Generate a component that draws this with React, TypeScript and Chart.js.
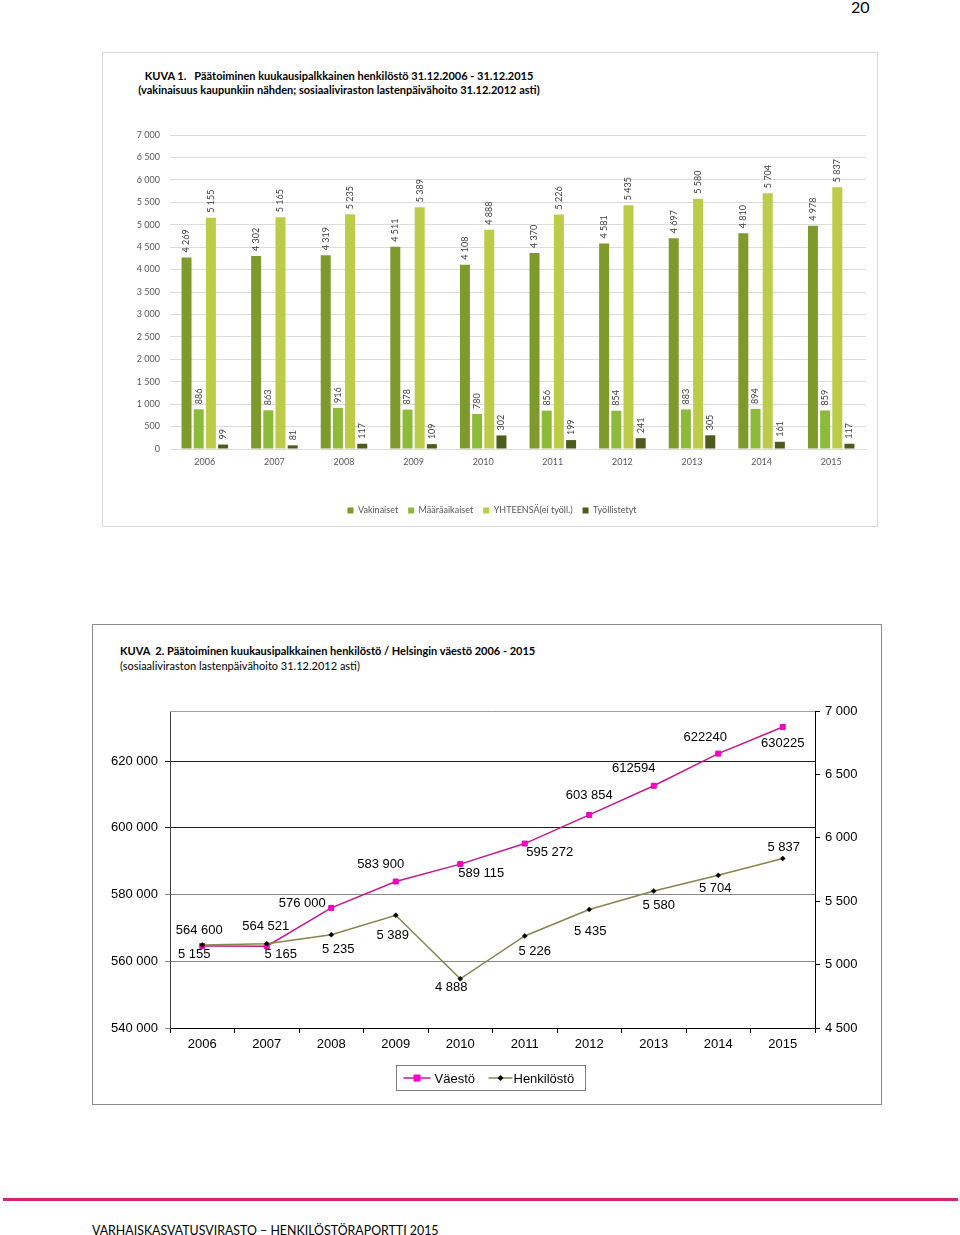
import React, { useEffect, useRef } from "react";
import { Chart, registerables } from "chart.js";

Chart.register(...registerables);

// ---------- DATA ----------
const years = ["2006", "2007", "2008", "2009", "2010", "2011", "2012", "2013", "2014", "2015"];
const vakinaiset = [4269, 4302, 4319, 4511, 4108, 4370, 4581, 4697, 4810, 4978];
const maaraaikaiset = [886, 863, 916, 878, 780, 856, 854, 883, 894, 859];
const yhteensa = [5155, 5165, 5235, 5389, 4888, 5226, 5435, 5580, 5704, 5837];
const tyollistetyt = [99, 81, 117, 109, 302, 199, 241, 305, 161, 117];

const vaesto = [564600, 564521, 576000, 583900, 589115, 595272, 603854, 612594, 622240, 630225];
const vaestoLabels = ["564 600", "564 521", "576 000", "583 900", "589 115", "595 272", "603 854", "612594", "622240", "630225"];
const henkilosto = [5155, 5165, 5235, 5389, 4888, 5226, 5435, 5580, 5704, 5837];

const leftTicks = [540000, 560000, 580000, 600000, 620000];
const rightTicks = [4500, 5000, 5500, 6000, 6500, 7000];

// label placement (style): offset of label centre from point
const vaestoOffsets = [[-3, -15], [-1, -20], [-29, -4], [-15, -17], [21, 9], [25, 9], [0, -20], [-20, -17], [-13, -16], [0, 16]];
const henkOffsets = [[-8, 9], [14, 11], [7, 15], [-3, 20], [-9, 9], [10, 15], [1, 22], [5, 14], [-3, 13], [1, -11]];

const fmt = (v: number) => String(v).replace(/\B(?=(\d{3})+(?!\d))/g, " ");

const C1FONT = "Lato";
const C2FONT = "'Liberation Sans', Arial, sans-serif";

const barLabelPlugin = {
  id: "barLabels",
  afterDatasetsDraw(chart: any) {
    const ctx = chart.ctx;
    ctx.save();
    ctx.font = `9px ${C1FONT}`;
    ctx.fillStyle = "#404040";
    chart.data.datasets.forEach((ds: any, i: number) => {
      const meta = chart.getDatasetMeta(i);
      meta.data.forEach((el: any, j: number) => {
        ctx.save();
        ctx.translate(el.x, el.y - 5);
        ctx.rotate(-Math.PI / 2);
        ctx.textAlign = "left";
        ctx.textBaseline = "middle";
        ctx.fillText(fmt(ds.data[j]), 0, 0);
        ctx.restore();
      });
    });
    ctx.restore();
  },
};

const lineExtrasPlugin = {
  id: "lineExtras",
  beforeDatasetsDraw(chart: any) {
    const { ctx, chartArea } = chart;
    ctx.save();
    ctx.strokeStyle = "#a0a0a0";
    ctx.lineWidth = 1;
    ctx.beginPath();
    ctx.moveTo(chartArea.left, chartArea.top + 0.5);
    ctx.lineTo(chartArea.right, chartArea.top + 0.5);
    ctx.stroke();
    ctx.restore();
  },
  afterDatasetsDraw(chart: any) {
    const { ctx, chartArea } = chart;
    ctx.save();
    ctx.font = `13px ${C2FONT}`;
    ctx.fillStyle = "#000";
    ctx.textAlign = "center";
    ctx.textBaseline = "middle";
    const m0 = chart.getDatasetMeta(0);
    const m1 = chart.getDatasetMeta(1);
    m0.data.forEach((el: any, j: number) => {
      const o = vaestoOffsets[j];
      ctx.fillText(vaestoLabels[j], el.x + o[0], el.y + o[1]);
    });
    m1.data.forEach((el: any, j: number) => {
      const o = henkOffsets[j];
      ctx.fillText(fmt(henkilosto[j]), el.x + o[0], el.y + o[1]);
    });
    // legend
    const ds0 = chart.data.datasets[0];
    const ds1 = chart.data.datasets[1];
    const cx = (chartArea.left + chartArea.right) / 2 - 2;
    const bw = 189, bh = 25;
    const bx = Math.round(cx - bw / 2) + 0.5;
    const by = chartArea.bottom + 37.5;
    ctx.strokeStyle = "#808080";
    ctx.lineWidth = 1;
    ctx.strokeRect(bx, by, bw, bh);
    const ly = by + bh / 2;
    // Väestö
    ctx.strokeStyle = ds0.borderColor;
    ctx.lineWidth = 1.5;
    ctx.beginPath();
    ctx.moveTo(bx + 7, ly);
    ctx.lineTo(bx + 34, ly);
    ctx.stroke();
    ctx.fillStyle = ds0.pointBackgroundColor;
    ctx.fillRect(bx + 17, ly - 3.5, 7, 7);
    ctx.fillStyle = "#000";
    ctx.textAlign = "left";
    ctx.fillText(ds0.label, bx + 38, ly + 1);
    // Henkilöstö
    ctx.strokeStyle = ds1.borderColor;
    ctx.lineWidth = 1.5;
    ctx.beginPath();
    ctx.moveTo(bx + 92, ly);
    ctx.lineTo(bx + 116, ly);
    ctx.stroke();
    ctx.fillStyle = "#000";
    ctx.beginPath();
    ctx.moveTo(bx + 104, ly - 3);
    ctx.lineTo(bx + 107, ly);
    ctx.lineTo(bx + 104, ly + 3);
    ctx.lineTo(bx + 101, ly);
    ctx.closePath();
    ctx.fill();
    ctx.fillText(ds1.label, bx + 117, ly + 1);
    ctx.restore();
  },
};

function BarChart() {
  const ref = useRef<HTMLCanvasElement>(null);
  useEffect(() => {
    const chart = new Chart(ref.current!, {
      type: "bar",
      data: {
        labels: years,
        datasets: [
          { label: "Vakinaiset", data: vakinaiset, backgroundColor: "#7f9a2c" },
          { label: "Määräaikaiset", data: maaraaikaiset, backgroundColor: "#8cbb3a" },
          { label: "YHTEENSÄ(ei työll.)", data: yhteensa, backgroundColor: "#bccb48" },
          { label: "Työllistetyt", data: tyollistetyt, backgroundColor: "#4c5c1c" },
        ],
      },
      options: {
        responsive: false,
        animation: false,
        layout: { padding: { top: 17, right: 10, left: 15, bottom: 0 } },
        datasets: { bar: { categoryPercentage: 0.7, barPercentage: 0.82 } },
        plugins: {
          tooltip: { enabled: false },
          legend: {
            position: "bottom",
            labels: {
              boxWidth: 6,
              boxHeight: 6,
              padding: 10,
              color: "#595959",
              font: { family: C1FONT, size: 9 },
            },
          },
        },
        scales: {
          x: {
            grid: { display: false, drawTicks: false },
            border: { display: false },
            ticks: { color: "#595959", font: { family: C1FONT, size: 9 }, padding: 8 },
            afterFit: (s: any) => { s.height = 47; },
          },
          y: {
            min: 0,
            max: 7000,
            ticks: {
              stepSize: 500,
              color: "#595959",
              font: { family: C1FONT, size: 9 },
              padding: 10,
              callback: (v: any) => fmt(v),
            },
            grid: { color: "#dcdcdc", drawTicks: false },
            border: { display: false },
            afterFit: (s: any) => { s.width = 52; },
          },
        },
      },
      plugins: [barLabelPlugin],
    } as any);
    return () => chart.destroy();
  }, []);
  return <canvas ref={ref} width={773} height={407} style={{ position: "absolute", left: 103, top: 118 }} />;
}

function LineChart() {
  const ref = useRef<HTMLCanvasElement>(null);
  useEffect(() => {
    const chart = new Chart(ref.current!, {
      type: "line",
      data: {
        labels: years,
        datasets: [
          {
            label: "Väestö",
            data: vaesto,
            yAxisID: "y",
            borderColor: "#c8168c",
            borderWidth: 1.5,
            pointStyle: "rect",
            pointRadius: 3.5,
            pointBackgroundColor: "#ff00cc",
            pointBorderColor: "#e000b8",
            pointBorderWidth: 1,
            order: 1,
          },
          {
            label: "Henkilöstö",
            data: henkilosto,
            yAxisID: "y1",
            borderColor: "#858550",
            borderWidth: 1.5,
            pointStyle: "rectRot",
            pointRadius: 2.5,
            pointBackgroundColor: "#000",
            pointBorderColor: "#000",
            pointBorderWidth: 0.5,
            order: 0,
          },
        ],
      },
      options: {
        responsive: false,
        animation: false,
        layout: { padding: { top: 16, bottom: 42, left: 0, right: 0 } },
        plugins: { legend: { display: false }, tooltip: { enabled: false } },
        scales: {
          x: {
            offset: true,
            grid: { offset: true, drawOnChartArea: false, tickLength: 5, color: "#000" },
            border: { color: "#000" },
            ticks: { color: "#000", font: { family: C2FONT, size: 13 }, padding: 4 },
            afterFit: (s: any) => { s.height = 30; },
          },
          y: {
            position: "left",
            min: 540000,
            max: 635000,
            afterBuildTicks: (s: any) => { s.ticks = leftTicks.map((v) => ({ value: v })); },
            ticks: {
              color: "#000",
              font: { family: C2FONT, size: 13 },
              padding: 7,
              callback: (v: any) => fmt(v),
            },
            grid: {
              tickLength: 5,
              lineWidth: 1,
              color: (c: any) => (c.tick && c.tick.value >= 600000 ? "#202020" : "#8a8a8a"),
            },
            border: { color: "#404040" },
            afterFit: (s: any) => { s.width = 77; },
          },
          y1: {
            position: "right",
            min: 4500,
            max: 7000,
            afterBuildTicks: (s: any) => { s.ticks = rightTicks.map((v) => ({ value: v })); },
            ticks: {
              color: "#000",
              font: { family: C2FONT, size: 13 },
              padding: 5,
              callback: (v: any) => fmt(v),
            },
            grid: { drawOnChartArea: false, tickLength: 5, color: "#000" },
            border: { color: "#000" },
            afterFit: (s: any) => { s.width = 65; },
          },
        },
      },
      plugins: [lineExtrasPlugin],
    } as any);
    return () => chart.destroy();
  }, []);
  return <canvas ref={ref} width={787} height={405} style={{ position: "absolute", left: 93, top: 695 }} />;
}

export default function App() {
  const calibri = "Lato, 'Open Sans', sans-serif";
  return (
    <div style={{ position: "absolute", left: 0, top: 0, width: 960, height: 1235, background: "#fff", overflow: "hidden", fontFamily: calibri }}>
      <div style={{ position: "absolute", left: 851, top: -3, fontSize: 16, color: "#000" }}>20</div>

      {/* Chart 1 box */}
      <div style={{ position: "absolute", left: 102, top: 52, width: 774, height: 473, border: "1px solid #d9d9d9" }} />
      <div style={{ position: "absolute", left: 89, top: 69, width: 500, textAlign: "center", fontSize: 11, fontWeight: 700, lineHeight: "14px", whiteSpace: "nowrap", color: "#000" }}>
        <div>KUVA 1.&nbsp;&nbsp; Päätoiminen kuukausipalkkainen henkilöstö 31.12.2006 - 31.12.2015</div>
        <div>(vakinaisuus kaupunkiin nähden; sosiaaliviraston lastenpäivähoito 31.12.2012 asti)</div>
      </div>
      <BarChart />

      {/* Chart 2 box */}
      <div style={{ position: "absolute", left: 92, top: 624, width: 788, height: 479, border: "1px solid #8c8c8c" }} />
      <div style={{ position: "absolute", left: 120, top: 643, fontSize: 11, lineHeight: "15px", whiteSpace: "nowrap", color: "#000" }}>
        <div style={{ fontWeight: 700 }}>KUVA&nbsp; 2. Päätoiminen kuukausipalkkainen henkilöstö / Helsingin väestö 2006 - 2015</div>
        <div>(sosiaaliviraston lastenpäivähoito 31.12.2012 asti)</div>
      </div>
      <LineChart />

      <div style={{ position: "absolute", left: 3, top: 1198, width: 955, height: 3, background: "#d6246f" }} />
      <div style={{ position: "absolute", left: 92, top: 1222, fontSize: 14, lineHeight: "16px", whiteSpace: "nowrap", color: "#000", transform: "scaleX(0.885)", transformOrigin: "left center" }}>
        VARHAISKASVATUSVIRASTO – HENKILÖSTÖRAPORTTI 2015
      </div>
    </div>
  );
}
